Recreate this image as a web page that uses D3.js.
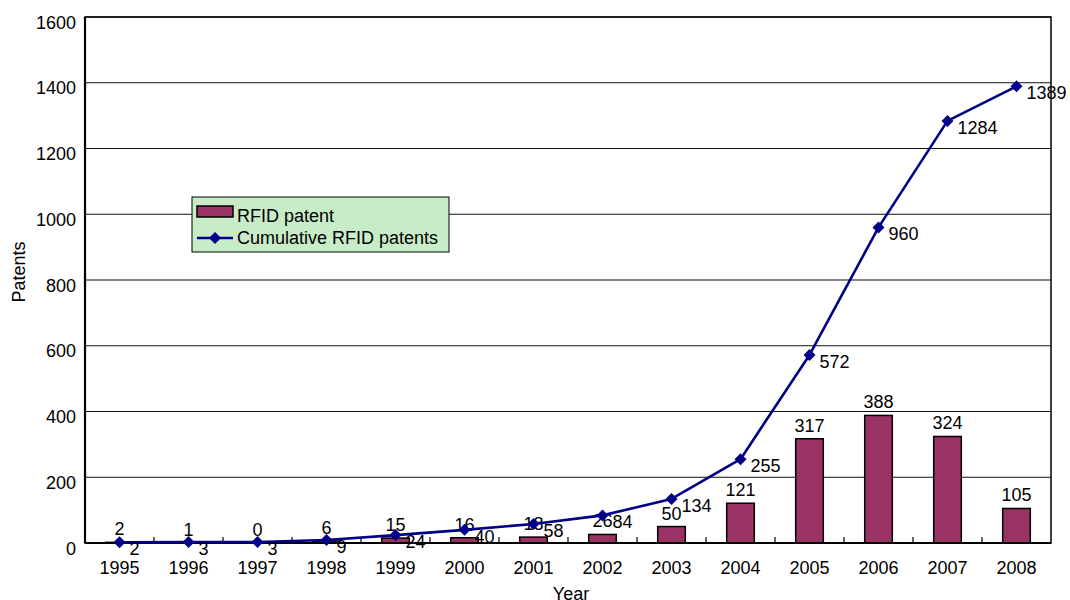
<!DOCTYPE html>
<html>
<head>
<meta charset="utf-8">
<script src="https://cdn.jsdelivr.net/npm/d3@7"></script>
<style>
  html, body { margin: 0; padding: 0; background: #fff; }
  text { font-family: "Liberation Sans", Arial, Helvetica, sans-serif; fill: #000; }
</style>
</head>
<body>
<svg id="chart" width="1070" height="600"></svg>
<script>
// RFID patents per year and running total
const years = ["1995","1996","1997","1998","1999","2000","2001","2002","2003","2004","2005","2006","2007","2008"];
const annualPatents = [2, 1, 0, 6, 15, 16, 18, 26, 50, 121, 317, 388, 324, 105];
const cumulativePatents = [2, 3, 3, 9, 24, 40, 58, 84, 134, 255, 572, 960, 1284, 1389];
const yTicks = [0, 200, 400, 600, 800, 1000, 1200, 1400, 1600];
const seriesNames = ["RFID patent", "Cumulative RFID patents"];

const svg = d3.select("#chart");
const margin = { left: 85, right: 19, top: 17, bottom: 57 };
const W = 1070, H = 600;
const x0 = margin.left, x1 = W - margin.right, y0 = H - margin.bottom, y1 = margin.top;

const x = d3.scaleBand().domain(years).range([x0, x1]).paddingInner(0).paddingOuter(0);
const y = d3.scaleLinear().domain([0, 1600]).range([y0, y1]);

const barColor = "#993366";
const lineColor = "#000088";
const fontSize = 18;
const fontFamily = "Liberation Sans, Arial, sans-serif";

svg.append("rect").attr("width", W).attr("height", H).attr("fill", "#fff");

// horizontal grid lines
svg.append("g").selectAll("line").data(yTicks.filter(d => d > 0)).join("line")
  .attr("x1", x0).attr("x2", x1)
  .attr("y1", d => y(d)).attr("y2", d => y(d))
  .attr("stroke", "#111").attr("stroke-width", 1.2);

// y axis labels
const yAxis = d3.axisLeft(y).tickValues(yTicks).tickFormat(d3.format("d")).tickSize(0).tickPadding(9);
const gy = svg.append("g").attr("transform", `translate(${x0},0)`).call(yAxis);
gy.select(".domain").remove();
gy.selectAll("text").attr("font-size", fontSize).attr("dy", "0.62em")
  .attr("font-family", fontFamily).attr("fill", "#000");

// x axis labels with small inward ticks at category boundaries
const xAxis = d3.axisBottom(x).tickSize(0).tickPadding(18);
const gx = svg.append("g").attr("transform", `translate(0,${y0})`).call(xAxis);
gx.select(".domain").remove();
gx.selectAll("text").attr("font-size", fontSize)
  .attr("font-family", fontFamily).attr("fill", "#000");

svg.append("g").selectAll("line").data(years.slice(1)).join("line")
  .attr("x1", d => x(d)).attr("x2", d => x(d))
  .attr("y1", y0).attr("y2", y0 - 6)
  .attr("stroke", "#000").attr("stroke-width", 1.2);

// bars
const barW = x.bandwidth() * 0.4;
svg.append("g").selectAll("rect").data(years).join("rect")
  .attr("x", d => x(d) + x.bandwidth() / 2 - barW / 2)
  .attr("y", (d, i) => y(annualPatents[i]))
  .attr("width", barW)
  .attr("height", (d, i) => y(0) - y(annualPatents[i]))
  .attr("fill", barColor).attr("stroke", "#000").attr("stroke-width", 1.5);

// plot frame
svg.append("rect").attr("x", x0).attr("y", y1).attr("width", x1 - x0).attr("height", y0 - y1)
  .attr("fill", "none").attr("stroke", "#000").attr("stroke-width", 1.5);
svg.append("line").attr("x1", x0).attr("x2", x0).attr("y1", y1).attr("y2", y0)
  .attr("stroke", "#000").attr("stroke-width", 2.2);
svg.append("line").attr("x1", x0).attr("x2", x1).attr("y1", y0).attr("y2", y0)
  .attr("stroke", "#000").attr("stroke-width", 2.2);

// bar value labels
svg.append("g").selectAll("text").data(years).join("text")
  .attr("x", d => x(d) + x.bandwidth() / 2)
  .attr("y", (d, i) => y(annualPatents[i]) - 7)
  .attr("text-anchor", "middle").attr("font-size", fontSize)
  .text((d, i) => annualPatents[i]);

// cumulative line
const cx = d => x(d) + x.bandwidth() / 2;
const line = d3.line().x((d, i) => cx(years[i])).y(d => y(d));
svg.append("path").datum(cumulativePatents).attr("d", line)
  .attr("fill", "none").attr("stroke", lineColor).attr("stroke-width", 2.6)
  .attr("stroke-linejoin", "round");

const diamond = d3.symbol().type(d3.symbolDiamond2).size(92);
svg.append("g").selectAll("path").data(cumulativePatents).join("path")
  .attr("transform", (d, i) => `translate(${cx(years[i])},${y(d)})`)
  .attr("d", diamond).attr("fill", lineColor);

// cumulative value labels
svg.append("g").selectAll("text").data(cumulativePatents).join("text")
  .attr("x", (d, i) => cx(years[i]) + 10)
  .attr("y", d => y(d) + 13)
  .attr("font-size", fontSize)
  .text(d => d);

// axis titles
svg.append("text").attr("transform", `translate(25,272) rotate(-90)`)
  .attr("text-anchor", "middle").attr("font-size", fontSize).text("Patents");
svg.append("text").attr("x", 571).attr("y", 600)
  .attr("text-anchor", "middle").attr("font-size", fontSize).text("Year");

// legend
const lg = svg.append("g").attr("transform", "translate(192,197)");
lg.append("rect").attr("width", 257).attr("height", 55)
  .attr("fill", "#c8ecc8").attr("stroke", "#000").attr("stroke-width", 1);
lg.append("rect").attr("x", 5).attr("y", 9).attr("width", 36).attr("height", 11)
  .attr("fill", barColor).attr("stroke", "#000").attr("stroke-width", 1.5);
lg.append("text").attr("x", 45).attr("y", 25).attr("font-size", fontSize).text(seriesNames[0]);
lg.append("line").attr("x1", 5).attr("x2", 41).attr("y1", 41).attr("y2", 41)
  .attr("stroke", lineColor).attr("stroke-width", 2.6);
lg.append("path").attr("transform", "translate(23,41)").attr("d", diamond).attr("fill", lineColor);
lg.append("text").attr("x", 45).attr("y", 47).attr("font-size", fontSize).text(seriesNames[1]);
</script>
</body>
</html>
